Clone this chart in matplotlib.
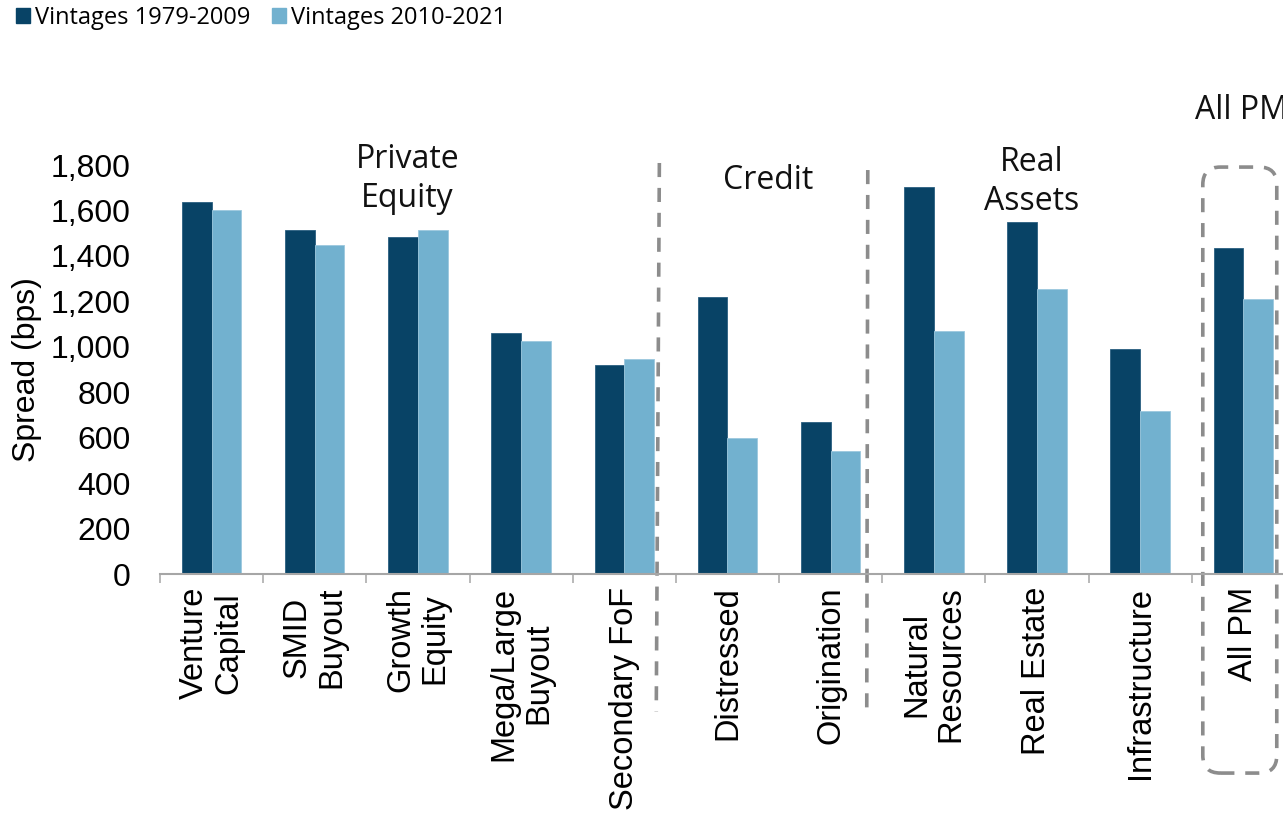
import numpy as np
import matplotlib
matplotlib.use('Agg')
import matplotlib.pyplot as plt
from matplotlib.patches import Patch, FancyBboxPatch
from matplotlib.ticker import FuncFormatter

# categories and spread values (bps)
categories = ['Venture\nCapital', 'SMID\nBuyout', 'Growth\nEquity', 'Mega/Large\nBuyout',
              'Secondary FoF', 'Distressed', 'Origination', 'Natural\nResources',
              'Real Estate', 'Infrastructure', 'All PM']
vintage_old = [1639, 1514, 1483, 1061, 919, 1221, 667, 1702, 1551, 989, 1436]
vintage_new = [1601, 1447, 1514, 1024, 946, 598, 540, 1070, 1254, 716, 1210]
series_names = ['Vintages 1979-2009', 'Vintages 2010-2021']
y_ticks = [0, 200, 400, 600, 800, 1000, 1200, 1400, 1600, 1800]

dark = '#084366'
light = '#72B1CF'
grey = '#A6A6A6'
dash_grey = '#8C8C8C'
dash = (0, (3.9, 3.0))

fig = plt.figure(figsize=(12.83, 8.17), dpi=100)
# axes run past the right edge of the figure, as in the original
ax = fig.add_axes([0.1247, 0.2974, 0.8846, 0.5006])

x = np.arange(len(categories))
w = 0.288
ax.bar(x - w / 2, vintage_old, w, color=dark, edgecolor='#2a5f80', linewidth=0.6)
ax.bar(x + w / 2, vintage_new, w, color=light, edgecolor='#9cc8de', linewidth=0.6)

ax.set_xlim(-0.5, len(categories) - 0.5)
ax.set_ylim(0, 1800)

# y axis
ax.set_yticks(y_ticks)
ax.yaxis.set_major_formatter(FuncFormatter(lambda v, p: f'{int(v):,}'))
ax.tick_params(axis='y', length=0, pad=21, labelsize=23)
ax.set_ylabel('Spread (bps)', fontsize=23, family='Liberation Sans')
ax.yaxis.set_label_coords(-0.104, 0.5)

# x axis: labels at centres, tick marks at boundaries
ax.set_xticks(x)
ax.set_xticklabels(categories, rotation=90, fontsize=23.5, family='Liberation Sans')
for lbl in ax.get_xticklabels():
    lbl.set_multialignment('center')
    lbl.set_linespacing(1.15)
ax.set_xticks(np.arange(-0.5, len(categories), 1), minor=True)
ax.tick_params(axis='x', which='major', length=0, pad=9)
ax.tick_params(axis='x', which='minor', length=6.5, width=1.1, color=grey, direction='out')
for lbl in ax.get_yticklabels():
    lbl.set_family('Liberation Sans')

for s in ['top', 'right', 'left']:
    ax.spines[s].set_visible(False)
ax.spines['bottom'].set_color(grey)
ax.spines['bottom'].set_linewidth(1.5)

# group labels
gfont = dict(family='Open Sans', fontsize=23, color='#111111', ha='center', va='center',
             linespacing=1.25, clip_on=False)
ax.text(1.9, 1740, 'Private\nEquity', **gfont)
ax.text(5.39, 1730, 'Credit', **gfont)
ax.text(7.95, 1725, 'Real\nAssets', **gfont)
ax.text(9.98, 2042, 'All PM', **gfont)

# dashed separators
ax.plot([4.34, 4.31], [1809, -605], ls=dash, lw=2.6, color=dash_grey, clip_on=False)
ax.plot([6.36, 6.35], [1778, -620], ls=dash, lw=2.6, color=dash_grey, clip_on=False)

# rounded dashed box around All PM
fig.canvas.draw()
px_x = ax.transData.transform((1, 0))[0] - ax.transData.transform((0, 0))[0]
px_y = ax.transData.transform((0, 1))[1] - ax.transData.transform((0, 0))[1]
box = FancyBboxPatch((9.607, -876), 10.324 - 9.607, 1791 + 876,
                     boxstyle='round,pad=0,rounding_size=0.17',
                     mutation_aspect=px_x / px_y,
                     fill=False, ls=dash, lw=2.6, edgecolor=dash_grey, clip_on=False)
ax.add_patch(box)

# legend
handles = [Patch(color=dark), Patch(color=light)]
fig.legend(handles, series_names, loc='upper left', bbox_to_anchor=(0.008, 1.0),
           ncol=2, frameon=False, prop={'family': 'Open Sans', 'size': 17},
           handlelength=0.58, handleheight=0.58, handletextpad=0.2, columnspacing=0.95,
           borderaxespad=0.15, borderpad=0.1)

fig.savefig('out.png', dpi=100)
